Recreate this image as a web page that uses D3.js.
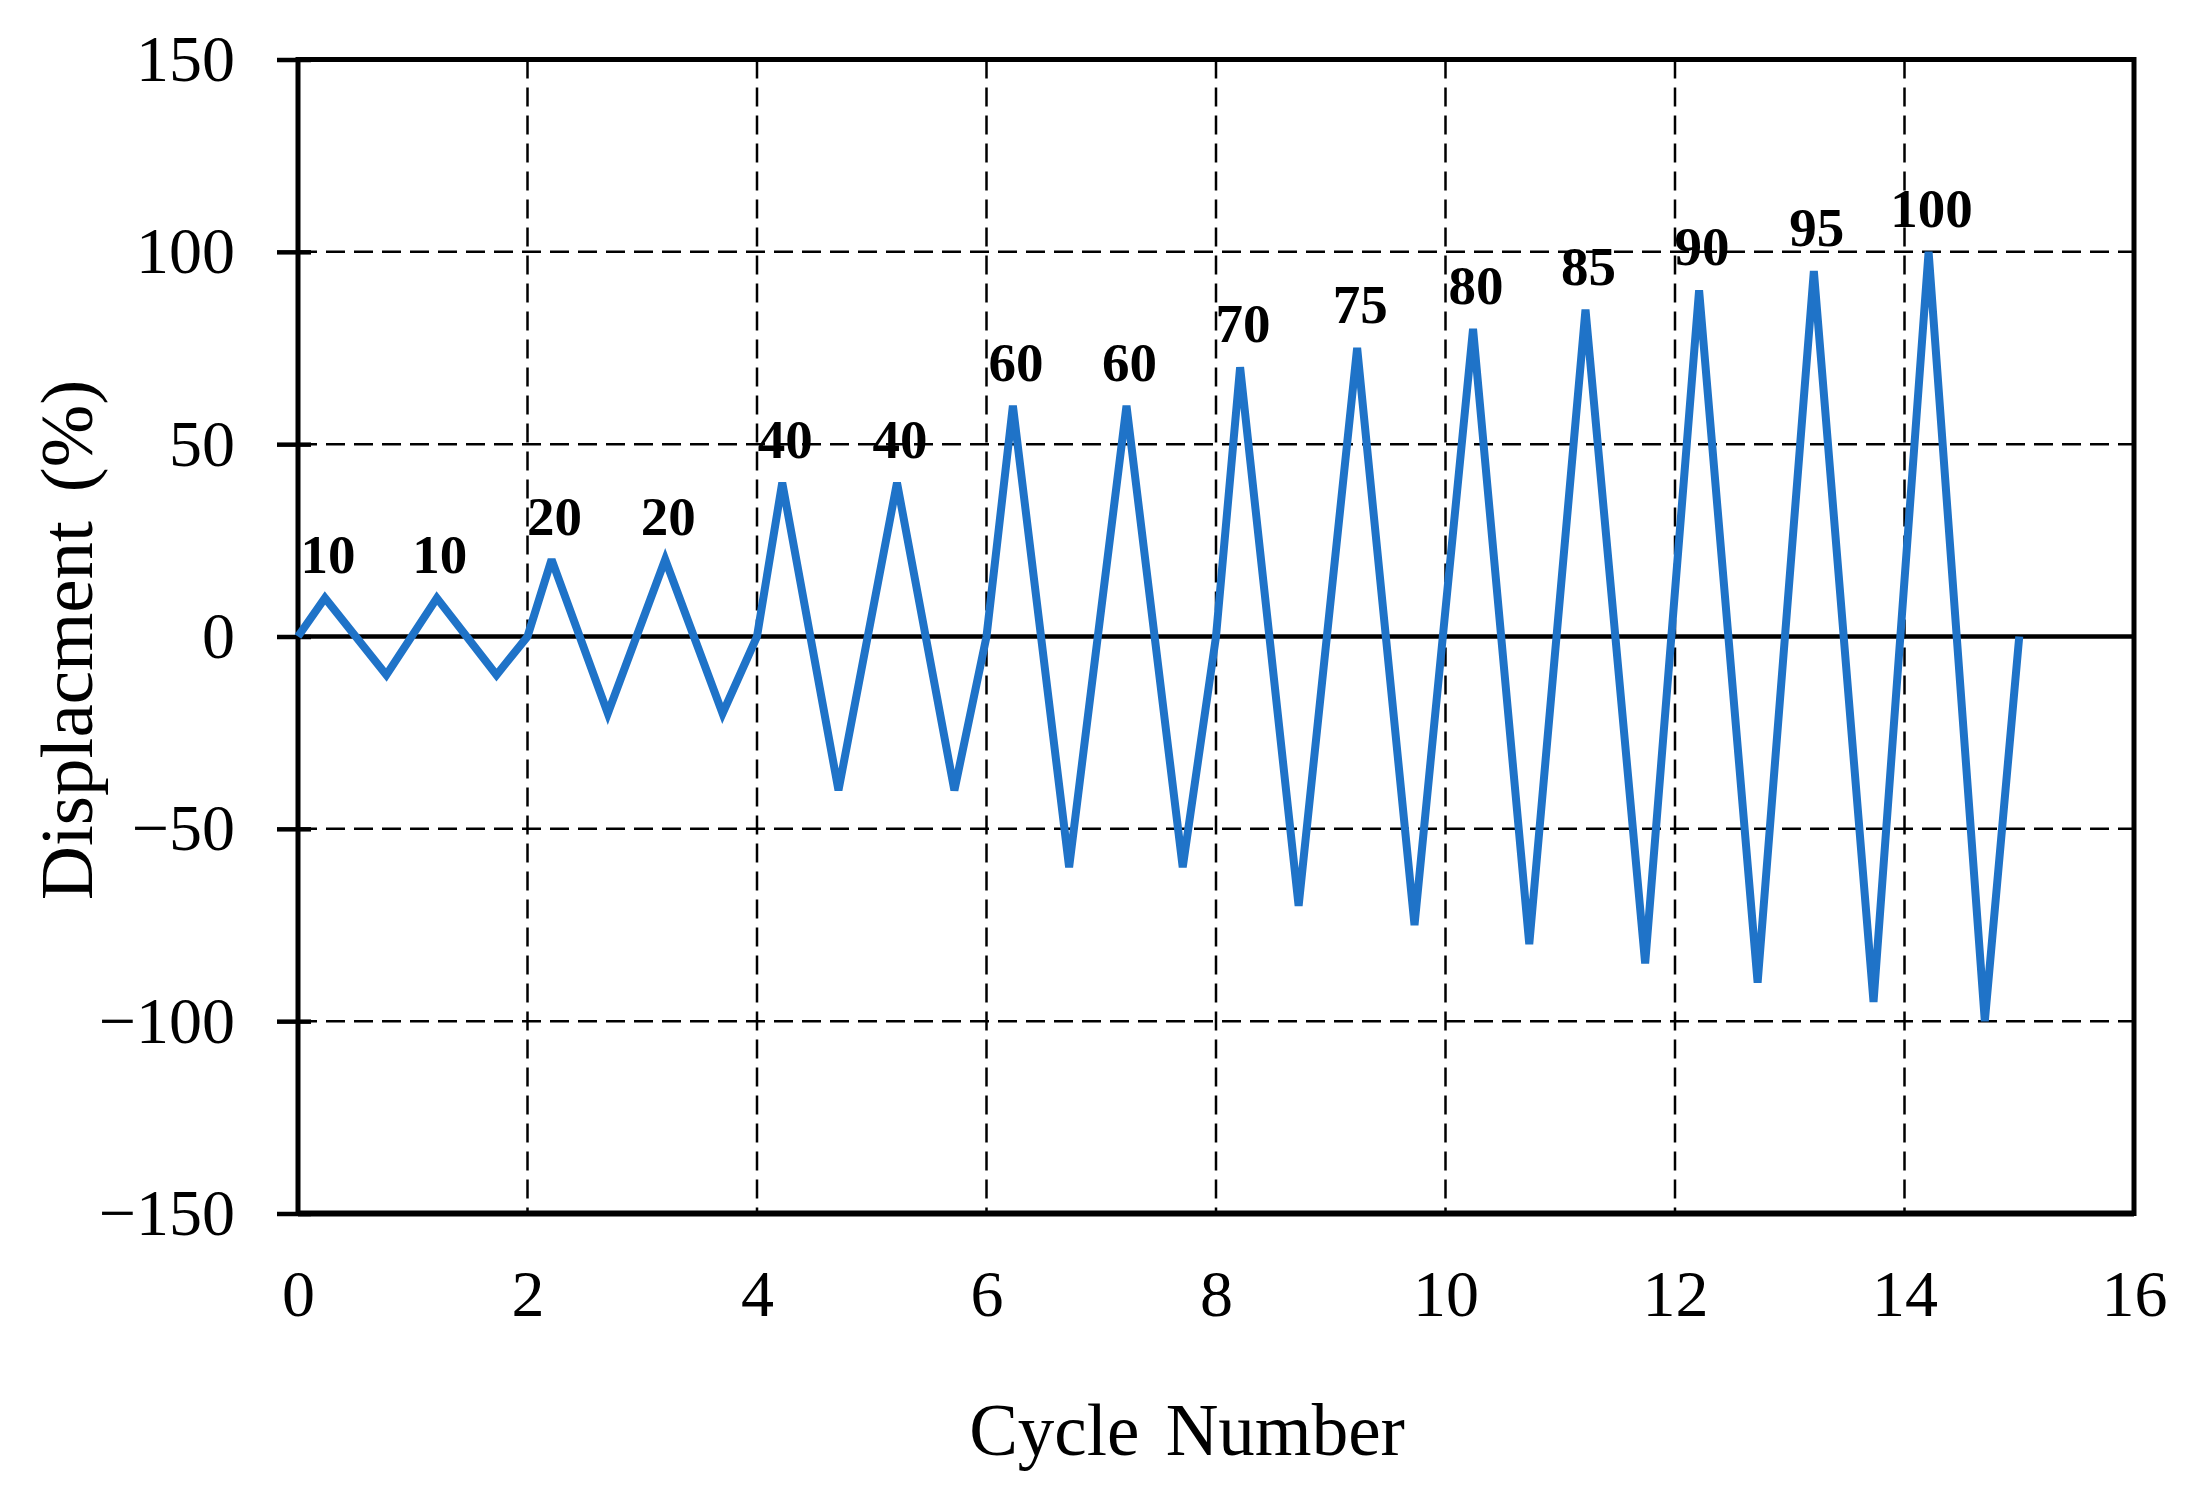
<!DOCTYPE html>
<html>
<head>
<meta charset="utf-8">
<script src="https://cdn.jsdelivr.net/npm/d3@7"></script>
<style>
  body { margin: 0; background: #fff; }
</style>
</head>
<body>
<div id="chart"></div>
<script>
const cycleX = [0, 0.235, 0.77, 1.21, 1.73, 2, 2.21, 2.70, 3.20, 3.70, 4, 4.22, 4.71, 5.22, 5.72, 6,
                6.23, 6.72, 7.22, 7.71, 8, 8.21, 8.72, 9.23, 9.73, 10.24, 10.73, 11.22, 11.74,
                12.21, 12.72, 13.21, 13.73, 14.21, 14.70, 15];
const displacement = [0, 10, -10, 10, -10, 0, 20, -20, 20, -20, 0, 40, -40, 40, -40, 0,
                      60, -60, 60, -60, 0, 70, -70, 75, -75, 80, -80, 85, -85,
                      90, -90, 95, -95, 100, -100, 0];
const xTicks = [0, 2, 4, 6, 8, 10, 12, 14, 16];
const yTicks = [-150, -100, -50, 0, 50, 100, 150];

const data = cycleX.map((c, i) => ({ x: c, y: displacement[i] }));
const peaks = data.filter(d => d.y > 0);

const svgWidth = 2204, svgHeight = 1506;
const margin = { top: 59.5, right: 70, bottom: 292.5, left: 298 };
const width = svgWidth - margin.left - margin.right;
const height = svgHeight - margin.top - margin.bottom;
const font = "'Liberation Serif', 'Times New Roman', serif";

const svg = d3.select("#chart").append("svg")
    .attr("width", svgWidth)
    .attr("height", svgHeight)
    .style("background", "#fff");

const g = svg.append("g")
    .attr("transform", "translate(" + margin.left + "," + margin.top + ")");

const x = d3.scaleLinear().domain([0, 16]).range([0, width]);
const y = d3.scaleLinear().domain([-150, 150]).range([height, 0]);

// dashed grid
g.append("g").selectAll("line")
    .data(yTicks.filter(t => t !== 0 && Math.abs(t) !== 150))
    .join("line")
    .attr("x1", 0).attr("x2", width)
    .attr("y1", d => y(d)).attr("y2", d => y(d))
    .attr("stroke", "#000").attr("stroke-width", 2.5)
    .attr("stroke-dasharray", "19,9");

g.append("g").selectAll("line")
    .data(xTicks.filter(t => t !== 0 && t !== 16))
    .join("line")
    .attr("x1", d => x(d)).attr("x2", d => x(d))
    .attr("y1", 0).attr("y2", height)
    .attr("stroke", "#000").attr("stroke-width", 2.5)
    .attr("stroke-dasharray", "19,9");

// zero line
g.append("line")
    .attr("x1", 0).attr("x2", width)
    .attr("y1", y(0)).attr("y2", y(0))
    .attr("stroke", "#000").attr("stroke-width", 4.5);

// y axis: outer ticks with labels, short inner ticks
const yAxis = g.append("g")
    .call(d3.axisLeft(y).tickValues(yTicks).tickSize(21).tickPadding(42));
yAxis.select(".domain").remove();
yAxis.selectAll(".tick line").attr("stroke-width", 4.5);
yAxis.selectAll("text")
    .attr("font-family", font).attr("font-size", 66).attr("fill", "#000");

const yInner = g.append("g")
    .call(d3.axisRight(y).tickValues(yTicks).tickSize(13).tickFormat(""));
yInner.select(".domain").remove();
yInner.selectAll(".tick line").attr("stroke-width", 4.5);

// x axis labels
const xAxis = g.append("g")
    .attr("transform", "translate(0," + height + ")")
    .call(d3.axisBottom(x).tickValues(xTicks).tickSize(0).tickPadding(56));
xAxis.select(".domain").remove();
xAxis.selectAll("text")
    .attr("font-family", font).attr("font-size", 66).attr("fill", "#000");

// frame
g.append("rect")
    .attr("x", 0).attr("y", 0)
    .attr("width", width).attr("height", height)
    .attr("fill", "none").attr("stroke", "#000").attr("stroke-width", 5);
g.append("line")
    .attr("x1", 0).attr("x2", width)
    .attr("y1", height).attr("y2", height)
    .attr("stroke", "#000").attr("stroke-width", 6);

// loading curve
const line = d3.line()
    .x(d => x(d.x))
    .y(d => y(d.y));

g.append("path")
    .datum(data)
    .attr("d", line)
    .attr("fill", "none")
    .attr("stroke", "#1f73c8")
    .attr("stroke-width", 8)
    .attr("stroke-linejoin", "miter")
    .attr("stroke-miterlimit", 3);

// peak labels
g.append("g").selectAll("text")
    .data(peaks)
    .join("text")
    .attr("x", d => x(d.x) + 3)
    .attr("y", d => y(d.y) - 25)
    .attr("text-anchor", "middle")
    .attr("font-family", font)
    .attr("font-weight", "bold")
    .attr("font-size", 55)
    .text(d => d.y);

// axis titles
svg.append("text")
    .attr("x", 1187).attr("y", 1455)
    .attr("text-anchor", "middle")
    .attr("font-family", font).attr("font-size", 73)
    .attr("word-spacing", 8)
    .text("Cycle Number");

svg.append("text")
    .attr("transform", "translate(92,640) rotate(-90)")
    .attr("text-anchor", "middle")
    .attr("font-family", font).attr("font-size", 75)
    .attr("word-spacing", 10)
    .text("Displacment (%)");
</script>
</body>
</html>
